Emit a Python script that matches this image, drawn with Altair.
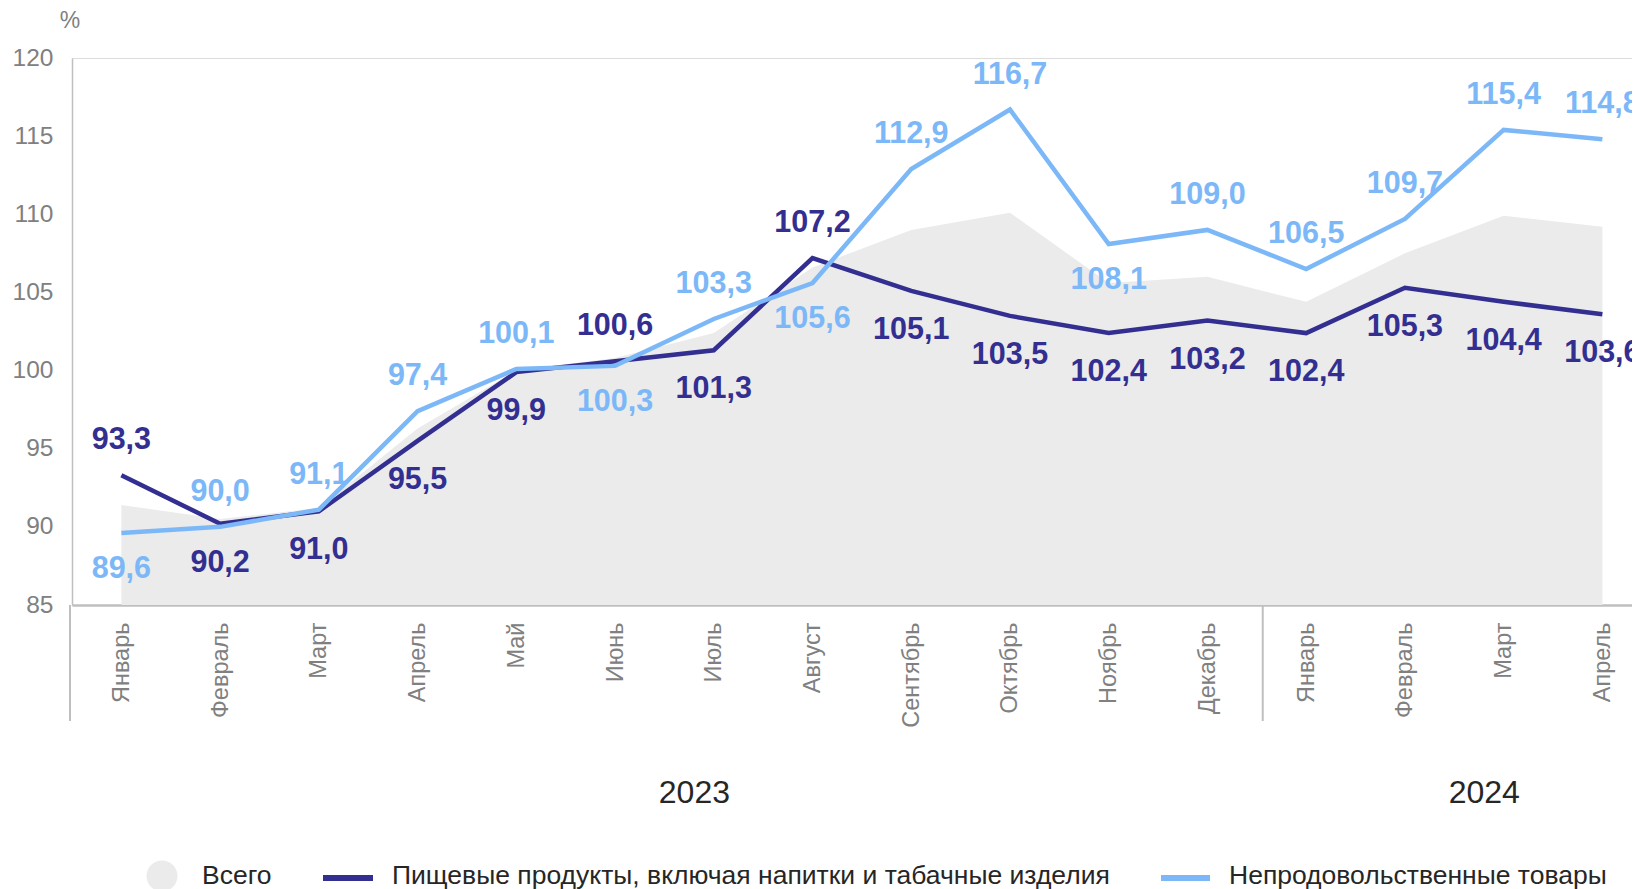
import altair as alt
import pandas as pd

MONTHS = ["Январь", "Февраль", "Март", "Апрель", "Май", "Июнь", "Июль", "Август",
          "Сентябрь", "Октябрь", "Ноябрь", "Декабрь",
          "Январь", "Февраль", "Март", "Апрель"]
YEARS = [2023] * 12 + [2024] * 4
TOTAL = [91.4, 90.5, 91.2, 96.3, 100.0, 100.8, 102.4, 106.6, 109.0, 110.1, 105.6, 106.0,
         104.4, 107.5, 109.9, 109.2]
FOOD = [93.3, 90.2, 91.0, 95.5, 99.9, 100.6, 101.3, 107.2, 105.1, 103.5, 102.4, 103.2,
        102.4, 105.3, 104.4, 103.6]
NONFOOD = [89.6, 90.0, 91.1, 97.4, 100.1, 100.3, 103.3, 105.6, 112.9, 116.7, 108.1, 109.0,
           106.5, 109.7, 115.4, 114.8]
FOOD_SIDE = ["above", "below", "below", "below", "below", "above", "below", "above",
             "below", "below", "below", "below", "below", "below", "below", "below"]
NONFOOD_SIDE = ["below", "above", "above", "above", "above", "below", "above", "below",
                "above", "above", "below", "above", "above", "above", "above", "above"]
Y_TICKS = [85, 90, 95, 100, 105, 110, 115, 120]
SERIES_NAMES = ["Всего", "Пищевые продукты, включая напитки и табачные изделия",
                "Непродовольственные товары"]

DARK = "#332F91"
LIGHT = "#7CB8F7"
AREA = "#EBEBEB"
GRAY = "#808080"
LINE_GRAY = "#BFBFBF"
TEXT = "#262626"
FONT = "Liberation Sans"

def fmt(v):
    return f"{v:.1f}".replace(".", ",")

df = pd.DataFrame({
    "idx": list(range(len(MONTHS))),
    "month": MONTHS,
    "year": YEARS,
    "total": TOTAL,
    "food": FOOD,
    "nonfood": NONFOOD,
    "food_side": FOOD_SIDE,
    "nonfood_side": NONFOOD_SIDE,
})
df["food_lbl"] = df["food"].map(fmt)
df["nonfood_lbl"] = df["nonfood"].map(fmt)

years_df = df.groupby("year", as_index=False)["idx"].mean()
one = pd.DataFrame({"a": [0]})

month_arr = "[" + ",".join(f"'{m}'" for m in MONTHS) + "]"
xscale = alt.Scale(domain=[-0.5, 15.3], nice=False, zero=False)
yscale = alt.Scale(domain=[85, 120], nice=False, zero=False)

X = alt.X("idx:Q", scale=xscale, axis=alt.Axis(
    values=list(range(len(MONTHS))), labelExpr=f"{month_arr}[datum.value]",
    labelAngle=-90, labelAlign="right", labelBaseline="middle", labelPadding=17,
    labelFontSize=23.5, labelColor=GRAY, labelFont=FONT, ticks=False, grid=False,
    domainColor=LINE_GRAY, domainWidth=2.5, title=None, labelOverlap=False))
YAX = alt.Axis(values=Y_TICKS, ticks=False, grid=False, labelPadding=19,
               labelFontSize=24.5, labelColor=GRAY, labelFont=FONT,
               domainColor=LINE_GRAY, domainWidth=1.5, title=None)

base = alt.Chart(df)

area = base.mark_area(color=AREA, opacity=1).encode(
    x=X, y=alt.Y("total:Q", scale=yscale, axis=YAX), y2=alt.datum(85))

food_line = base.mark_line(color=DARK, strokeWidth=4.5).encode(
    x=alt.X("idx:Q", scale=xscale), y=alt.Y("food:Q", scale=yscale))
nonfood_line = base.mark_line(color=LIGHT, strokeWidth=4.5).encode(
    x=alt.X("idx:Q", scale=xscale), y=alt.Y("nonfood:Q", scale=yscale))

def labels(field, side_field, lbl_field, color, side, dy):
    return base.transform_filter(alt.datum[side_field] == side).mark_text(
        font=FONT, fontSize=30.5, fontWeight="bold", color=color,
        baseline="middle", align="center", dy=dy).encode(
        x=alt.X("idx:Q", scale=xscale), y=alt.Y(f"{field}:Q", scale=yscale),
        text=f"{lbl_field}:N")

lbls = [
    labels("food", "food_side", "food_lbl", DARK, "above", -35),
    labels("food", "food_side", "food_lbl", DARK, "below", 39),
    labels("nonfood", "nonfood_side", "nonfood_lbl", LIGHT, "above", -35),
    labels("nonfood", "nonfood_side", "nonfood_lbl", LIGHT, "below", 36),
]

seps = alt.Chart(pd.DataFrame({"pos": [-0.52, 11.56]})).mark_rule(
    color=LINE_GRAY, strokeWidth=2).encode(
    x=alt.X("pos:Q", scale=xscale), y=alt.value(547), y2=alt.value(663))

year_lbl = alt.Chart(years_df).mark_text(
    font=FONT, fontSize=32, color=TEXT, align="center", baseline="middle", dx=30).encode(
    x=alt.X("idx:Q", scale=xscale), y=alt.value(735), text="year:N")

pct = alt.Chart(one).mark_text(font=FONT, fontSize=23, color=GRAY, align="center",
                               baseline="middle").encode(
    x=alt.value(-2), y=alt.value(-37), text=alt.value("%"))

LEG_Y = 818
leg_circle = alt.Chart(one).mark_circle(color=AREA, opacity=1, size=960).encode(
    x=alt.value(90), y=alt.value(LEG_Y))
leg_dark = alt.Chart(one).mark_rule(color=DARK, strokeWidth=6).encode(
    x=alt.value(251), x2=alt.value(301), y=alt.value(LEG_Y + 2))
leg_light = alt.Chart(one).mark_rule(color=LIGHT, strokeWidth=6).encode(
    x=alt.value(1089), x2=alt.value(1138), y=alt.value(LEG_Y + 2))

def leg_text(x, t):
    return alt.Chart(one).mark_text(font=FONT, fontSize=26.5, color=TEXT, align="left",
                                    baseline="middle").encode(
        x=alt.value(x), y=alt.value(LEG_Y), text=alt.value(t))

legend = [leg_circle, leg_dark, leg_light,
          leg_text(130, SERIES_NAMES[0]), leg_text(320, SERIES_NAMES[1]),
          leg_text(1157, SERIES_NAMES[2])]

chart = alt.layer(area, seps, food_line, nonfood_line, *lbls, year_lbl, pct, *legend).properties(
    width=1560, height=547,
    autosize=alt.AutoSizeParams(type="none"),
    padding={"left": 64, "top": 50, "right": 0, "bottom": 284},
).configure_view(stroke=None).configure(font=FONT)

chart.save("out.html", embed_options={"renderer": "svg", "actions": False})
